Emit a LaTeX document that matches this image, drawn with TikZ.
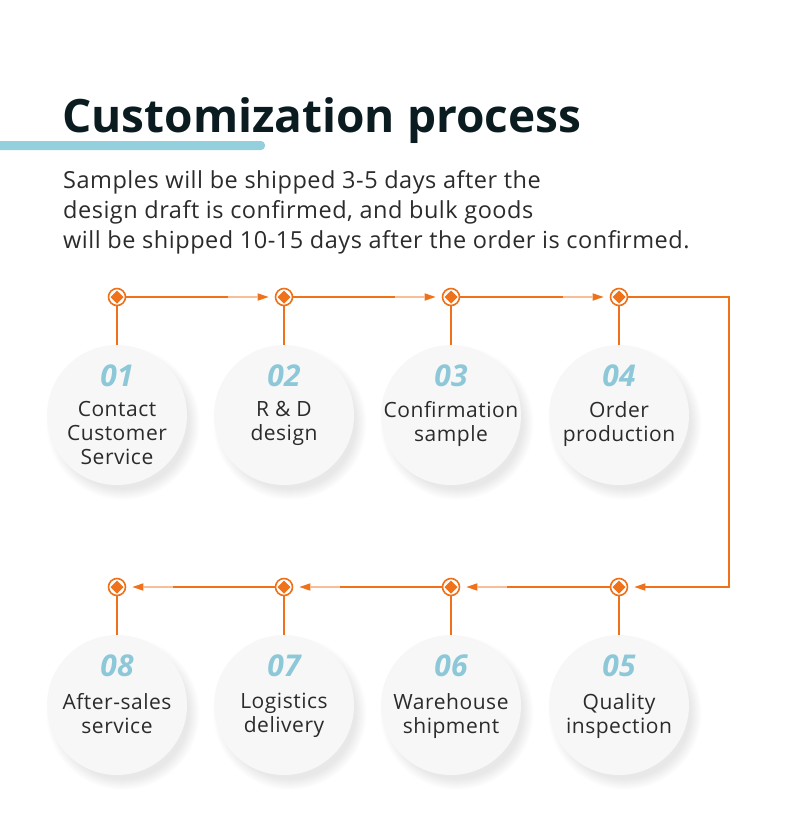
\documentclass[tikz,border=0pt]{standalone}
\usepackage{fontspec}
\setmainfont{Open Sans}
\usepackage{xcolor}
\usetikzlibrary{positioning,arrows.meta,calc,shadows}

\definecolor{flow}{HTML}{EF7119}
\definecolor{numblue}{HTML}{8DC8D8}
\definecolor{barblue}{HTML}{94CFDD}
\definecolor{ink}{HTML}{0B1C20}
\definecolor{txt}{HTML}{2B2B2B}
\definecolor{disc}{HTML}{F7F7F7}

\begin{document}
\begin{tikzpicture}[x=1pt, y=-1pt,
  marker/.style={circle, draw=flow, line width=1.6pt, fill=white, minimum size=17pt, inner sep=0pt,
    path picture={\fill[flow] ($(path picture bounding box.center)+(0,-6.5)$) -- ++(6.5,6.5) -- ++(-6.5,6.5) -- ++(-6.5,-6.5) -- cycle;}},
  stage/.style={circle, fill=disc, minimum size=140pt, inner sep=0pt,
    circular drop shadow={shadow xshift=5pt, shadow yshift=-7pt, opacity=0.18}},
  num/.style={font=\fontsize{30}{30}\selectfont\bfseries\itshape, text=numblue, inner sep=0pt},
  label/.style={font=\fontsize{21}{24}\selectfont\addfontfeatures{LetterSpace=2.5}, text=txt, align=center, anchor=north, inner sep=0pt},
  link/.style={draw=flow, line width=1.6pt, -{Triangle[length=11pt,width=7pt]}, shorten >=6pt},
  fade/.style={draw=white, opacity=0.55, line width=1.8pt},
  stub/.style={draw=flow, line width=1.6pt}]
\useasboundingbox (0,0) rectangle (790,822);

% heading
\fill[barblue, rounded corners=4pt] (-10,141) rectangle (265,150);
\node[anchor=base west, inner sep=0pt, text=ink, font=\fontsize{46}{50}\selectfont\bfseries] (title) at (62,132) {Customization process};
\node[anchor=north west, inner sep=0pt, align=left, text=txt, font=\fontsize{23.5}{30}\selectfont\addfontfeatures{LetterSpace=2.2}] (intro) at (63,170)
  {Samples will be shipped 3-5 days after the\\design draft is confirmed, and bulk goods\\will be shipped 10-15 days after the order is confirmed.};

% markers
\node[marker] (m1) at (117,297) {};
\node[marker] (m2) at (284,297) {};
\node[marker] (m3) at (451,297) {};
\node[marker] (m4) at (619,297) {};
\node[marker] (m5) at (619,587) {};
\node[marker] (m6) at (451,587) {};
\node[marker] (m7) at (284,587) {};
\node[marker] (m8) at (117,587) {};
\coordinate (turn) at (729,297);

% stages
\node[stage] (c1) at (117,415) {};
\node[stage] (c2) at (284,415) {};
\node[stage] (c3) at (451,415) {};
\node[stage] (c4) at (619,415) {};
\node[stage] (c5) at (619,705) {};
\node[stage] (c6) at (451,705) {};
\node[stage] (c7) at (284,705) {};
\node[stage] (c8) at (117,705) {};

\node[num] (n1) at (117,376) {01};
\node[num] (n2) at (284,376) {02};
\node[num] (n3) at (451,376) {03};
\node[num] (n4) at (619,376) {04};
\node[num] (n5) at (619,666) {05};
\node[num] (n6) at (451,666) {06};
\node[num] (n7) at (284,666) {07};
\node[num] (n8) at (117,666) {08};

\node[label] (t1) at (117,401) {Contact\\Customer\\Service};
\node[label] (t2) at (284,401) {R \& D\\design};
\node[label] (t3) at (451,401) {Confirmation\\sample};
\node[label] (t4) at (619,401) {Order\\production};
\node[label] (t5) at (619,693) {Quality\\inspection};
\node[label] (t6) at (451,693) {Warehouse\\shipment};
\node[label] (t7) at (284,693) {Logistics\\delivery};
\node[label] (t8) at (117,693) {After-sales\\service};

% connectors
\draw[stub] (m1) -- (c1);
\draw[stub] (m2) -- (c2);
\draw[stub] (m3) -- (c3);
\draw[stub] (m4) -- (c4);
\draw[stub] (m5) -- (c5);
\draw[stub] (m6) -- (c6);
\draw[stub] (m7) -- (c7);
\draw[stub] (m8) -- (c8);

\draw[link] (m1) -- (m2);
\draw[link] (m2) -- (m3);
\draw[link] (m3) -- (m4);
\draw[link] (m4) -- (turn) |- (m5);
\draw[link] (m5) -- (m6);
\draw[link] (m6) -- (m7);
\draw[link] (m7) -- (m8);

\draw[fade] ($(m2.west)+(-47,0)$) -- ($(m2.west)+(-17,0)$);
\draw[fade] ($(m3.west)+(-47,0)$) -- ($(m3.west)+(-17,0)$);
\draw[fade] ($(m4.west)+(-47,0)$) -- ($(m4.west)+(-17,0)$);
\draw[fade] ($(m6.east)+(47,0)$) -- ($(m6.east)+(17,0)$);
\draw[fade] ($(m7.east)+(47,0)$) -- ($(m7.east)+(17,0)$);
\draw[fade] ($(m8.east)+(47,0)$) -- ($(m8.east)+(17,0)$);
\end{tikzpicture}
\end{document}
